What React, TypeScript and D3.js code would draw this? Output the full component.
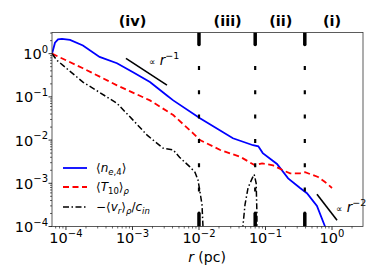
import React from "react";
import * as d3 from "d3";

// radius (pc) and profiles
const rNe = [6.17e-5, 6.84e-5, 7.6e-5, 8.7e-5, 1.15e-4, 1.8e-4, 3.2e-4, 5.85e-4, 1.02e-3, 1.83e-3, 3.3e-3, 4.1e-3, 1.035e-2, 3.24e-2, 6.5e-2, 7.8e-2, 9.1e-2, 0.149, 0.219, 0.331, 0.42, 0.594, 0.785, 0.89];
const nE = [1.0, 1.8, 2.14, 2.2, 2.08, 1.55, 0.84, 0.6, 0.37, 0.22, 0.108, 0.083, 0.032, 0.011, 0.0076, 0.0072, 0.005, 0.0028, 0.0013, 0.00078, 0.00059, 0.0003, 0.0001, 0.00006];

const rT = [6.17e-5, 1.8e-4, 5.85e-4, 1.83e-3, 4.1e-3, 8.1e-3, 1.035e-2, 2.09e-2, 4.17e-2, 6.95e-2, 8.9e-2, 0.13, 0.183, 0.234, 0.331, 0.393, 0.518, 0.617, 0.785, 1.0];
const tVals = [1.0, 0.46, 0.185, 0.083, 0.038, 0.0145, 0.01, 0.0059, 0.0041, 0.0026, 0.0029, 0.0026, 0.002, 0.0017, 0.0017, 0.0018, 0.00155, 0.0014, 0.00107, 0.00078];

const rV1 = [6.17e-5, 7.33e-5, 1.8e-4, 5.85e-4, 1.02e-3, 1.66e-3, 2.88e-3, 4.1e-3, 5.1e-3, 7.3e-3, 8.7e-3, 9.66e-3, 1.035e-2, 1.11e-2, 1.148e-2, 1.175e-2];
const v1 = [1.0, 0.7, 0.22, 0.071, 0.029, 0.013, 0.0065, 0.0059, 0.004, 0.0024, 0.0018, 0.0012, 0.00063, 0.00032, 0.0001, 0.00004];
const rV2 = [4.52e-2, 4.57e-2, 4.92e-2, 5.46e-2, 6.3e-2, 6.76e-2, 7.24e-2, 7.41e-2, 7.5e-2];
const v2 = [0.00004, 0.0001, 0.00032, 0.00078, 0.0013, 0.0016, 0.001, 0.00024, 0.00004];

// region boundaries and labels
const bounds = [0.01, 0.07, 0.39];
const regionNames = ["(iv)", "(iii)", "(ii)", "(i)"];
const regionCenters = [1e-3, 2.7e-2, 0.17, 1.0];

// power-law guides
const guide1R = [7.98e-4, 3.3e-3];
const guide1V = [0.78, 0.187];
const guide2R = [0.594, 1.19];
const guide2V = [5.6e-4, 1.4e-4];

const xTicks = [1e-4, 1e-3, 1e-2, 1e-1, 1];
const xExp = ["\u22124", "\u22123", "\u22122", "\u22121", "0"];
const yTicks = [1e-4, 1e-3, 1e-2, 1e-1, 1];
const yExp = ["\u22124", "\u22123", "\u22122", "\u22121", "0"];

const W = 374, H = 280;
const left = 52, right = 363, top = 32.5, bottom = 226.5;
const font = "DejaVu Sans, sans-serif";

const App: React.FC = () => {
  const x = d3.scaleLog().domain([10 ** -4.21, 10 ** 0.466]).range([left, right]);
  const y = d3.scaleLog().domain([1e-4, 10 ** 0.49]).range([bottom, top]);

  const line = (rs: number[], vs: number[]) =>
    d3.line<number>().x((_, i) => x(rs[i])).y((_, i) => y(vs[i]))(vs.map((_, i) => i)) || "";

  const xMinor: number[] = [];
  const yMinor: number[] = [];
  for (let e = -5; e <= 0; e++) {
    for (let k = 2; k <= 9; k++) {
      const v = k * 10 ** e;
      if (v > x.domain()[0] && v < x.domain()[1]) xMinor.push(v);
      if (v > y.domain()[0] && v < y.domain()[1]) yMinor.push(v);
    }
  }

  return (
    <svg width={W} height={H} style={{ position: "absolute", left: 0, top: 0, background: "#fff" }} fontFamily={font}>
      <defs>
        <clipPath id="plot">
          <rect x={left} y={top} width={right - left} height={bottom - top} />
        </clipPath>
      </defs>

      {/* region labels */}
      {regionNames.map((t, i) => (
        <text key={t} x={x(regionCenters[i])} y={26} textAnchor="middle" fontSize={14.5} fontWeight="bold">
          {t}
        </text>
      ))}

      <g clipPath="url(#plot)">
        <path d={line(rNe, nE)} fill="none" stroke="#0000ff" strokeWidth={1.8} />
        <path d={line(rT, tVals)} fill="none" stroke="#ff0000" strokeWidth={1.8} strokeDasharray="6,3.5" />
        <path d={line(rV1, v1)} fill="none" stroke="#000" strokeWidth={1.5} strokeDasharray="6,2.5,1.5,2.5" />
        <path d={line(rV2, v2)} fill="none" stroke="#000" strokeWidth={1.5} strokeDasharray="6,2.5,1.5,2.5" />

        {bounds.map((b) => (
          <g key={b}>
            <line x1={x(b)} x2={x(b)} y1={top} y2={top + 12} stroke="#000" strokeWidth={3.5} strokeLinecap="round" />
            <line x1={x(b)} x2={x(b)} y1={66} y2={bottom - 14} stroke="#000" strokeWidth={2.2} strokeDasharray="4,20.3" />
            <line x1={x(b)} x2={x(b)} y1={bottom - 13} y2={bottom} stroke="#000" strokeWidth={3.5} strokeLinecap="round" />
          </g>
        ))}

        <path d={line(guide1R, guide1V)} stroke="#000" strokeWidth={1.6} />
        <path d={line(guide2R, guide2V)} stroke="#000" strokeWidth={1.6} />
      </g>

      {/* guide labels */}
      <text x={149} y={65} fontSize={13.5}>
        <tspan fontSize={9}>{"\u221d"}</tspan>
        <tspan fontStyle="italic"> r</tspan>
        <tspan fontSize={9.5} dy={-6}>{"\u22121"}</tspan>
      </text>
      <text x={336} y={212} fontSize={13.5}>
        <tspan fontSize={9}>{"\u221d"}</tspan>
        <tspan fontStyle="italic"> r</tspan>
        <tspan fontSize={9.5} dy={-6}>{"\u22122"}</tspan>
      </text>

      {/* frame */}
      <rect x={left} y={top} width={right - left} height={bottom - top} fill="none" stroke="#333" strokeWidth={0.8} />

      {/* x axis */}
      {xTicks.map((t, i) => (
        <g key={"x" + t}>
          <line x1={x(t)} x2={x(t)} y1={bottom} y2={bottom + 3.5} stroke="#000" strokeWidth={0.8} />
          <text x={x(t)} y={243} textAnchor="middle" fontSize={14.5}>
            10<tspan fontSize={10} dy={-6.5}>{xExp[i]}</tspan>
          </text>
        </g>
      ))}
      {xMinor.map((t) => (
        <line key={"xm" + t} x1={x(t)} x2={x(t)} y1={bottom} y2={bottom + 2} stroke="#000" strokeWidth={0.6} />
      ))}
      <text x={207} y={262} textAnchor="middle" fontSize={14}>
        <tspan fontStyle="italic">r</tspan> (pc)
      </text>

      {/* y axis */}
      {yTicks.map((t, i) => (
        <g key={"y" + t}>
          <line x1={left - 3.5} x2={left} y1={y(t)} y2={y(t)} stroke="#000" strokeWidth={0.8} />
          <text x={48} y={y(t) + 5.5} textAnchor="end" fontSize={14.5}>
            10<tspan fontSize={10} dy={-6.5}>{yExp[i]}</tspan>
          </text>
        </g>
      ))}
      {yMinor.map((t) => (
        <line key={"ym" + t} x1={left - 2} x2={left} y1={y(t)} y2={y(t)} stroke="#000" strokeWidth={0.6} />
      ))}

      {/* legend */}
      <g fontSize={12}>
        <line x1={63} x2={87} y1={168} y2={168} stroke="#0000ff" strokeWidth={1.8} />
        <text x={96} y={172}>
          {"\u27e8"}<tspan fontStyle="italic">n</tspan>
          <tspan fontSize={8.5} dy={3}><tspan fontStyle="italic">e</tspan>,4</tspan>
          <tspan dy={-3}>{"\u27e9"}</tspan>
        </text>
        <line x1={63} x2={87} y1={187} y2={187} stroke="#ff0000" strokeWidth={1.8} strokeDasharray="6,3.5" />
        <text x={96} y={191}>
          {"\u27e8"}<tspan fontStyle="italic">T</tspan>
          <tspan fontSize={8.5} dy={3}>10</tspan>
          <tspan dy={-3}>{"\u27e9"}</tspan>
          <tspan fontSize={8.5} dy={3} fontStyle="italic">{"\u03c1"}</tspan>
        </text>
        <line x1={63} x2={87} y1={207} y2={207} stroke="#000" strokeWidth={1.5} strokeDasharray="6,2.5,1.5,2.5" />
        <text x={96} y={211}>
          {"\u2212\u27e8"}<tspan fontStyle="italic">v</tspan>
          <tspan fontSize={8.5} dy={3} fontStyle="italic">r</tspan>
          <tspan dy={-3}>{"\u27e9"}</tspan>
          <tspan fontSize={8.5} dy={3} fontStyle="italic">{"\u03c1"}</tspan>
          <tspan dy={-3}>/</tspan>
          <tspan fontStyle="italic">c</tspan>
          <tspan fontSize={8.5} dy={3} fontStyle="italic">in</tspan>
        </text>
      </g>
    </svg>
  );
};

export default App;
